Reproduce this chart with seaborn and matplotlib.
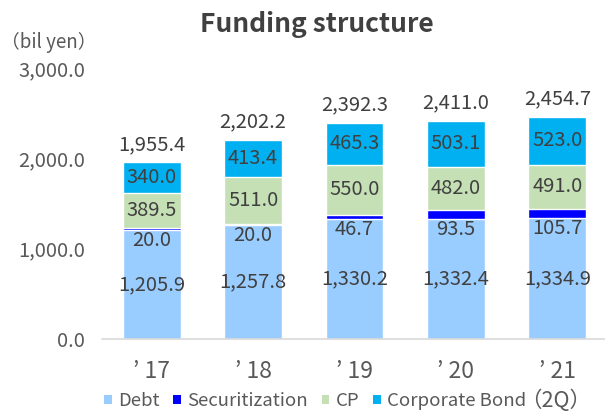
import matplotlib
matplotlib.use("Agg")
import matplotlib.pyplot as plt
import pandas as pd
import seaborn as sns
from matplotlib.patches import Patch

# ---- data ----
years = ["’17", "’18", "’19", "’20", "’21"]
debt = [1205.9, 1257.8, 1330.2, 1332.4, 1334.9]
securitization = [20.0, 20.0, 46.7, 93.5, 105.7]
cp = [389.5, 511.0, 550.0, 482.0, 491.0]
bond = [340.0, 413.4, 465.3, 503.1, 523.0]
totals = [1955.4, 2202.2, 2392.3, 2411.0, 2454.7]
series_names = ["Debt", "Securitization", "CP", "Corporate Bond"]
yticks = [0, 1000, 2000, 3000]

sns.set_theme(style="white")
plt.rcParams['font.family'] = ['Noto Sans CJK JP', 'DejaVu Sans']

colors = {"Debt": "#99CCFF", "Securitization": "#0000FF",
          "CP": "#C5E0B4", "Corporate Bond": "#00B0F0"}
TXT = "#404040"
TICK = "#595959"

df = pd.DataFrame({"year": years, "Debt": debt, "Securitization": securitization,
                   "CP": cp, "Corporate Bond": bond})
cum = df[series_names].cumsum(axis=1)

W, H = 605, 411
fig = plt.figure(figsize=(W / 100, H / 100), dpi=100)
ax = fig.add_axes([102 / W, 72 / H, 503 / W, 271 / H])

for name in reversed(series_names):
    sns.barplot(x=df["year"], y=cum[name], color=colors[name], saturation=1,
                width=0.57, order=years, errorbar=None, ax=ax)

ax.set_xlim(-0.49, 4.47)
ax.set_ylim(0, 3000)
ax.set_xlabel("")
ax.set_ylabel("")
for s in ["top", "right", "left"]:
    ax.spines[s].set_visible(False)
ax.spines["bottom"].set_color("#D9D9D9")
ax.spines["bottom"].set_linewidth(1.2)
ax.set_yticks(yticks)
ax.set_yticklabels([f"{v:,.1f}" for v in yticks], fontsize=14.5, color=TICK)
ax.set_xticks(range(len(years)))
ax.set_xticklabels([y.replace("’", "’ ") for y in years])
ax.tick_params(axis="y", length=0, pad=12)
ax.tick_params(axis="x", length=0, pad=15, labelsize=16.5, labelcolor=TICK)
ax.grid(False)

LFS = 14.5
for i in range(len(years)):
    ax.text(i, debt[i] / 2, f"{debt[i]:,.1f}", ha="center", va="center",
            fontsize=LFS, color=TXT)
    ax.annotate(f"{securitization[i]:,.1f}", (i, debt[i]), xytext=(0, -7.5),
                textcoords="offset points", ha="center", va="center",
                fontsize=LFS, color=TXT)
    base = debt[i] + securitization[i]
    ax.text(i, base + cp[i] / 2, f"{cp[i]:,.1f}", ha="center", va="center",
            fontsize=LFS, color=TXT)
    ax.text(i, base + cp[i] + bond[i] / 2, f"{bond[i]:,.1f}", ha="center",
            va="center", fontsize=LFS, color=TXT)
    ax.annotate(f"{totals[i]:,.1f}", (i, totals[i]), xytext=(0, 13),
                textcoords="offset points", ha="center", va="center",
                fontsize=LFS, color=TXT)

fig.text(317 / W, 1 - 24 / H, "Funding structure", ha="center", va="center",
         fontsize=19, fontweight="bold", color=TXT)
fig.text(49 / W, 1 - 42 / H, "（bil yen）", ha="center", va="center",
         fontsize=13.5, color=TICK)

handles = [Patch(facecolor=colors[n], edgecolor="none") for n in series_names]
fig.legend(handles, series_names, loc="center left",
           bbox_to_anchor=(104 / W, 1 - 401 / H), bbox_transform=fig.transFigure,
           ncol=4, frameon=False, fontsize=13.4, labelcolor=TICK,
           handlelength=0.42, handleheight=0.42, handletextpad=0.35,
           columnspacing=0.72, borderpad=0, borderaxespad=0)
fig.text(556 / W, 1 - 401 / H, "（2Q）", ha="center", va="center",
         fontsize=15.5, color=TICK)

fig.savefig("out.png", dpi=100)
